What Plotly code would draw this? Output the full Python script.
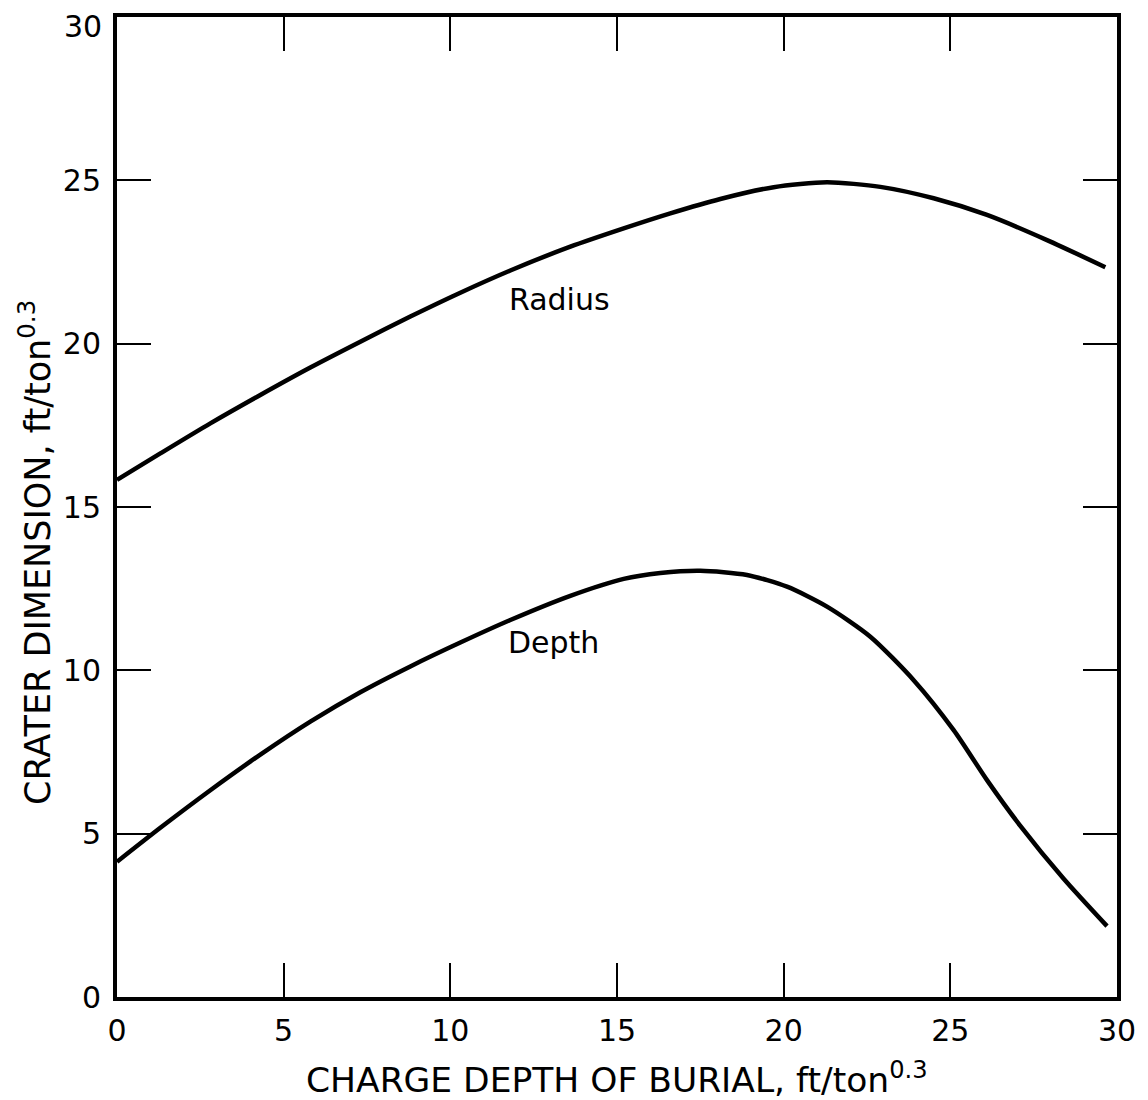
import plotly.graph_objects as go

# Data
radius_x = [0, 1.3, 2.8, 4.3, 5.8, 7.3, 8.8, 10.3, 11.8, 13.6, 15.2, 16.6, 18.1, 19.7, 21.3, 22.9, 24.5, 26.1, 27.9, 29.65]
radius_y = [15.83, 16.64, 17.56, 18.43, 19.27, 20.06, 20.83, 21.56, 22.24, 22.97, 23.53, 23.99, 24.43, 24.79, 24.94, 24.80, 24.45, 23.94, 23.17, 22.34]

depth_x = [0, 1.3, 2.8, 4.3, 5.8, 7.3, 8.8, 10.3, 11.8, 13.6, 15.2, 16.3, 17.5, 18.9, 20.1, 21.3, 22.6, 23.9, 25.1, 26.1, 27.1, 28.4, 29.7]
depth_y = [4.14, 5.18, 6.33, 7.42, 8.43, 9.33, 10.12, 10.85, 11.54, 12.28, 12.80, 12.98, 13.05, 12.92, 12.56, 11.95, 11.03, 9.70, 8.17, 6.64, 5.24, 3.62, 2.17]

tick_vals = [0, 5, 10, 15, 20, 25, 30]
tick_text = ["0", "5", "10", "15", "20", "25", "30"]

FONT = "DejaVu Sans"

fig = go.Figure()
fig.add_trace(go.Scatter(x=radius_x, y=radius_y, mode="lines",
                         line=dict(color="black", width=4.5, shape="spline", smoothing=0.7),
                         showlegend=False, hoverinfo="skip"))
fig.add_trace(go.Scatter(x=depth_x, y=depth_y, mode="lines",
                         line=dict(color="black", width=4.5, shape="spline", smoothing=0.7),
                         showlegend=False, hoverinfo="skip"))

axis_common = dict(
    range=[0, 30], tickvals=tick_vals,
    showgrid=False, zeroline=False, showline=True, linecolor="black", linewidth=4,
    mirror="ticks", ticks="inside", ticklen=34, tickwidth=2, tickcolor="black",
    tickfont=dict(family=FONT, size=30, color="black"),
    ticklabeloverflow="allow", automargin=False,
)

fig.update_xaxes(**axis_common, ticktext=tick_text, ticklabelstandoff=4)
# the top y label ("30") sits just below its tick in the reference; draw it as an annotation
y_ticktext = tick_text[:-1] + [""]
fig.update_yaxes(**axis_common, ticktext=y_ticktext, ticklabelstandoff=6)
fig.add_annotation(text=tick_text[-1], x=-0.013, y=tick_vals[-1] - 0.3, xref="paper", yref="y",
                   showarrow=False, xanchor="right", yanchor="middle",
                   font=dict(family=FONT, size=30, color="black"))

fig.add_annotation(text="Radius", x=13.26, y=21.35, xref="x", yref="y", showarrow=False,
                   font=dict(family=FONT, size=30, color="black"))
fig.add_annotation(text="Depth", x=13.08, y=10.85, xref="x", yref="y", showarrow=False,
                   font=dict(family=FONT, size=30, color="black"))

fig.add_annotation(text="CHARGE DEPTH OF BURIAL, ft/ton<sup>0.3</sup>",
                   x=0.5, y=-0.083, xref="paper", yref="paper", showarrow=False,
                   xanchor="center", yanchor="middle",
                   font=dict(family=FONT, size=34.5, color="black"))
fig.add_annotation(text="CRATER DIMENSION, ft/ton<sup>0.3</sup>",
                   x=-0.082, y=0.453, xref="paper", yref="paper", showarrow=False,
                   xanchor="center", yanchor="middle", textangle=-90,
                   font=dict(family=FONT, size=35, color="black"))

# page body has an 8px default margin; compensate so the plot area lands where the reference's does
fig.update_layout(
    width=1140, height=1092,
    margin=dict(l=109, r=31, t=9, b=103, autoexpand=False),
    paper_bgcolor="white", plot_bgcolor="white",
)

fig.write_html("out.html")
